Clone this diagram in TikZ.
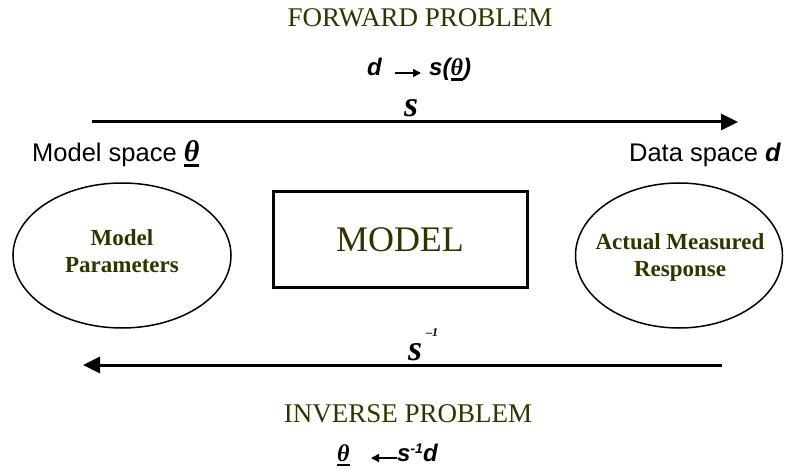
\documentclass[tikz,border=0pt]{standalone}
\usepackage{fontspec}
\setmainfont{Liberation Serif}
\newfontfamily\arialf{Liberation Sans}
\usetikzlibrary{arrows.meta,shapes.geometric}
\definecolor{olivetext}{RGB}{51,51,0}
\newcommand{\thul}[1]{\setbox0\hbox{#1}\rlap{\vrule width\wd0 height -2.5pt depth 5pt}\box0}
\newcommand{\thetab}{{\rmfamily\bfseries\itshape θ}}
\tikzset{
  x=1pt, y=-1pt,
  titletext/.style={inner sep=0pt, text=olivetext, font=\fontsize{27}{32}\selectfont},
  formula/.style={inner sep=0pt, font=\arialf\bfseries\itshape\fontsize{24}{28}\selectfont},
  spacetext/.style={inner sep=0pt, font=\arialf\fontsize{25.5}{30}\selectfont},
  slab/.style={inner sep=0pt, font=\bfseries\itshape\fontsize{36}{40}\selectfont},
  suplab/.style={inner sep=0pt, font=\bfseries\itshape\fontsize{12}{14}\selectfont},
  ellbox/.style={draw, ellipse, line width=1.5pt, inner sep=0pt},
  elltext/.style={inner sep=0pt, align=center, text=olivetext, font=\bfseries\fontsize{23}{27}\selectfont},
  modelbox/.style={draw, line width=3pt, inner sep=0pt, text=olivetext, font=\fontsize{36}{40}\selectfont},
  bigarrow/.style={line width=3pt, -{Triangle[length=17pt,width=16pt]}},
  smallarrow/.style={line width=1.5pt, -{Triangle[length=8pt,width=8pt]}}
}
\begin{document}
\begin{tikzpicture}
\useasboundingbox (0,0) rectangle (787,470);
% forward
\node[titletext, anchor=base] (fwd) at (420,27) {FORWARD PROBLEM};
\node[formula, anchor=base west] (fd) at (367,76) {d};
\node[formula, anchor=base west] (fs) at (429,76) {s(\thul{\thetab})};
\coordinate (fa1) at (395,73);
\coordinate (fa2) at (421,73);
\draw[smallarrow] (fa1) -- (fa2);
\node[slab, anchor=base] (sf) at (411,117) {s};
\coordinate (ta) at (92,122);
\coordinate (tb) at (738,122);
\draw[bigarrow] (ta) -- (tb);
% spaces
\node[spacetext, anchor=base west] (ms) at (32,162) {Model space \thul{\fontsize{30}{34}\selectfont\thetab}};
\node[spacetext, anchor=base east] (ds) at (781,162) {Data space {\bfseries\itshape d}};
% ellipses
\node[ellbox, minimum width=218pt, minimum height=145pt] (mp) at (122,255.5) {};
\node[elltext] (mpt) at (122,251) {Model\\Parameters};
\node[ellbox, minimum width=207pt, minimum height=145pt] (amr) at (679,255.5) {};
\node[elltext] (amrt) at (680,257) {Actual Measured\\Response};
% model box
\node[modelbox, minimum width=254pt, minimum height=96pt] (model) at (400,240) {MODEL};
% inverse
\coordinate (ba) at (722,365);
\coordinate (bb) at (83,365);
\draw[bigarrow] (ba) -- (bb);
\node[slab, anchor=base] (si) at (415,360) {s};
\node[suplab, anchor=base west] (sim) at (426,337) {–1};
\node[titletext, anchor=base] (inv) at (408,422) {INVERSE PROBLEM};
\node[formula, anchor=base west] (bt) at (337,461) {\thul{\thetab}};
\coordinate (ia1) at (397,458);
\coordinate (ia2) at (371,458);
\draw[smallarrow] (ia1) -- (ia2);
\node[formula, anchor=base west] (bs) at (397,461) {s\raisebox{8pt}{\fontsize{14}{16}\selectfont -1}d};
\end{tikzpicture}
\end{document}
